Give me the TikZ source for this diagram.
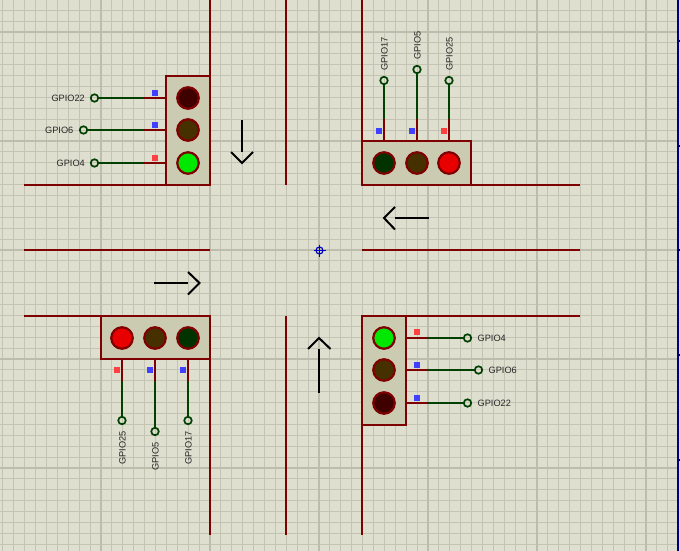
\documentclass[tikz,border=0pt]{standalone}
\usepackage{fontspec}
\setmainfont{Liberation Sans}
\definecolor{bgc}{HTML}{DFDFD0}
\definecolor{gridminor}{HTML}{C4C4B4}
\definecolor{gridmajor}{HTML}{BDBDAD}
\definecolor{road}{HTML}{7F0000}
\definecolor{wire}{HTML}{004000}
\definecolor{boxfill}{HTML}{CBCBB1}
\definecolor{offred}{HTML}{3F0000}
\definecolor{offamber}{HTML}{473000}
\definecolor{offgreen}{HTML}{003300}
\definecolor{onred}{HTML}{E80000}
\definecolor{ongreen}{HTML}{00E800}
\definecolor{pinred}{HTML}{FF4040}
\definecolor{pinblue}{HTML}{4040FF}
\definecolor{navyedge}{HTML}{000080}
\definecolor{originc}{HTML}{0000C0}
\tikzset{
 x=1pt,y=-1pt,
 roadline/.style={draw=road,line width=2pt},
 housing/.style={draw=road,fill=boxfill,line width=2pt,rectangle,inner sep=0pt,outer sep=0pt},
 lamp/.style={circle,draw=road,line width=2.2pt,minimum size=21.5pt,inner sep=0pt,outer sep=0pt},
 pinend/.style={circle,draw=wire,line width=1.7pt,minimum size=7.5pt,inner sep=0pt,outer sep=0pt},
 wireline/.style={draw=wire,line width=2pt},
 stub/.style={draw=road,line width=2pt},
 pinlabel/.style={font=\fontsize{9.2}{10}\selectfont,text=black!85,inner sep=0pt},
 flag/.style={rectangle,minimum size=6pt,inner sep=0pt,outer sep=0pt},
 flow/.style={draw=black,line width=2pt},
}
\begin{document}
\begin{tikzpicture}
\useasboundingbox (0,0) rectangle (680,551);
\fill[bgc] (0,0) rectangle (680,551);
\foreach \i in {-29,...,32} {
  \pgfmathsetmacro\xx{floor(319+10.9*\i)+0.5}
  \draw[gridminor,line width=1pt] (\xx,0) -- (\xx,551);
}
\foreach \i in {-22,...,28} {
  \pgfmathsetmacro\yy{floor(250+10.9*\i)+0.5}
  \draw[gridminor,line width=1pt] (0,\yy) -- (677,\yy);
}
\foreach \xx in {101,210,319,428,537,646} \draw[gridmajor,line width=2pt] (\xx,0) -- (\xx,551);
\foreach \yy in {32,141,250,359,468} \draw[gridmajor,line width=2pt] (0,\yy) -- (677,\yy);
% sheet edge
\draw[navyedge,line width=2pt] (678,0) -- (678,551);
\foreach \yy in {41,146,250,355,460} \draw[navyedge,line width=1.5pt] (678,\yy) -- (680,\yy);
% origin
\node[circle,draw=originc,line width=1.2pt,minimum size=7pt,inner sep=0pt] (origin) at (319.5,250.5) {};
\draw[originc,line width=1.2pt] (313.5,250.5) -- (325.5,250.5) (319.5,244.5) -- (319.5,256.5);
% roads
\draw[roadline] (210,0) -- (210,185) (286,0) -- (286,185) (362,0) -- (362,185);
\draw[roadline] (24,185) -- (210,185) (362,185) -- (580,185);
\draw[roadline] (24,250) -- (210,250) (362,250) -- (580,250);
\draw[roadline] (24,316) -- (210,316) (362,316) -- (580,316);
\draw[roadline] (210,316) -- (210,535) (286,316) -- (286,535) (362,316) -- (362,535);
% housings
\node[housing,minimum width=44pt,minimum height=109pt] (tl) at (188,130.5) {};
\node[housing,minimum width=109pt,minimum height=44pt] (tr) at (416.5,163) {};
\node[housing,minimum width=109pt,minimum height=43pt] (bl) at (155.5,337.5) {};
\node[housing,minimum width=44pt,minimum height=109pt] (br) at (384,370.5) {};
% lamps
\node[lamp,fill=offred] (tl1) at (188,98) {};
\node[lamp,fill=offamber] (tl2) at (188,130) {};
\node[lamp,fill=ongreen] (tl3) at (188,163) {};
\node[lamp,fill=offgreen] (tr1) at (384,163) {};
\node[lamp,fill=offamber] (tr2) at (417,163) {};
\node[lamp,fill=onred] (tr3) at (449,163) {};
\node[lamp,fill=onred] (bl1) at (122,338) {};
\node[lamp,fill=offamber] (bl2) at (155,338) {};
\node[lamp,fill=offgreen] (bl3) at (188,338) {};
\node[lamp,fill=ongreen] (br1) at (384,338) {};
\node[lamp,fill=offamber] (br2) at (384,370) {};
\node[lamp,fill=offred] (br3) at (384,403) {};
% pins top-left
\node[pinend] (p1) at (94.5,98) {};
\node[pinend] (p2) at (83.5,130) {};
\node[pinend] (p3) at (94.5,163) {};
\node[pinlabel,anchor=east] at (85,98.5) {GPIO22};
\node[pinlabel,anchor=east] at (73.5,130.5) {GPIO6};
\node[pinlabel,anchor=east] at (85,163.5) {GPIO4};
\foreach \p/\yy in {p1/98,p2/130,p3/163} {
  \draw[wireline] (\p) -- (144,\yy);
  \draw[stub] (144,\yy) -- (166,\yy);
}
\node[flag,fill=pinblue] at (155,92.5) {};
\node[flag,fill=pinblue] at (155,125) {};
\node[flag,fill=pinred] at (155,157.5) {};
% pins top-right
\node[pinend] (q1) at (384,80.5) {};
\node[pinend] (q2) at (417,69.5) {};
\node[pinend] (q3) at (449,80.5) {};
\node[pinlabel,anchor=west,rotate=90] at (384.5,71) {GPIO17};
\node[pinlabel,anchor=west,rotate=90] at (417.5,60) {GPIO5};
\node[pinlabel,anchor=west,rotate=90] at (449.5,71) {GPIO25};
\foreach \p/\xx in {q1/384,q2/417,q3/449} {
  \draw[wireline] (\p) -- (\xx,119);
  \draw[stub] (\xx,119) -- (\xx,141);
}
\node[flag,fill=pinblue] at (378.5,130.5) {};
\node[flag,fill=pinblue] at (411.5,130.5) {};
\node[flag,fill=pinred] at (444,130.5) {};
% pins bottom-left
\node[pinend] (r1) at (122,420.5) {};
\node[pinend] (r2) at (155,431.5) {};
\node[pinend] (r3) at (188,420.5) {};
\node[pinlabel,anchor=east,rotate=90] at (122.5,431) {GPIO25};
\node[pinlabel,anchor=east,rotate=90] at (155.5,442) {GPIO5};
\node[pinlabel,anchor=east,rotate=90] at (188.5,431) {GPIO17};
\foreach \p/\xx in {r1/122,r2/155,r3/188} {
  \draw[wireline] (\p) -- (\xx,381);
  \draw[stub] (\xx,381) -- (\xx,359);
}
\node[flag,fill=pinred] at (117,370) {};
\node[flag,fill=pinblue] at (149.5,370) {};
\node[flag,fill=pinblue] at (182.5,370) {};
% pins bottom-right
\node[pinend] (s1) at (467.5,338) {};
\node[pinend] (s2) at (478.5,370) {};
\node[pinend] (s3) at (467.5,403) {};
\node[pinlabel,anchor=west] at (477.5,338.5) {GPIO4};
\node[pinlabel,anchor=west] at (488.5,370.5) {GPIO6};
\node[pinlabel,anchor=west] at (477.5,403.5) {GPIO22};
\foreach \p/\yy in {s1/338,s2/370,s3/403} {
  \draw[wireline] (\p) -- (428,\yy);
  \draw[stub] (428,\yy) -- (406,\yy);
}
\node[flag,fill=pinred] at (416.5,332) {};
\node[flag,fill=pinblue] at (416.5,365) {};
\node[flag,fill=pinblue] at (416.5,397.5) {};
% flow arrows
\draw[flow] (242,120) -- (242,152);
\draw[flow] (231,152) -- (242,163) -- (253,152);
\draw[flow] (428.5,218) -- (395,218);
\draw[flow] (395,207) -- (384,218) -- (395,229.5);
\draw[flow] (154,283) -- (188,283);
\draw[flow] (188,272) -- (199.5,283) -- (188,294.5);
\draw[flow] (319,393) -- (319,349);
\draw[flow] (308,349) -- (319,338) -- (330.5,349);
\end{tikzpicture}
\end{document}
